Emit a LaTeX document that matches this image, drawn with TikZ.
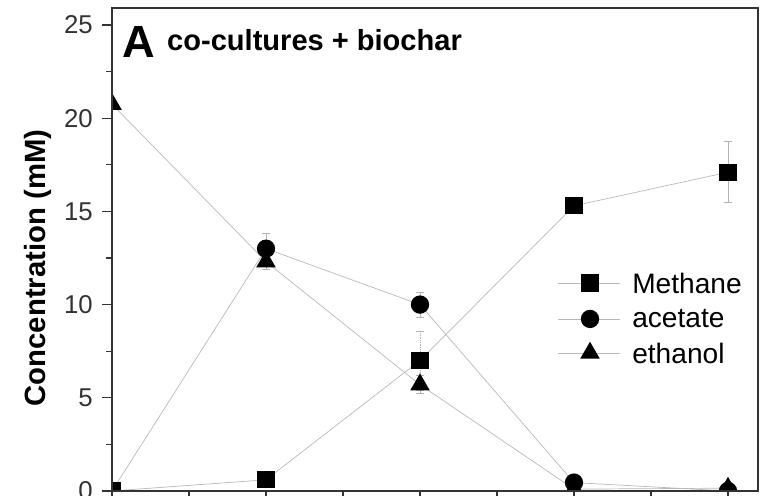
\documentclass[tikz,border=0pt]{standalone}
\usepackage{fontspec}
\setmainfont{Liberation Sans}
\usetikzlibrary{shapes.geometric,arrows.meta,calc}

\begin{document}
\begin{tikzpicture}[x=4.62cm,y=0.5592cm,
  axisline/.style={black!80,line width=1.1pt},
  dataline/.style={gray!55,line width=0.6pt},
  errbar/.style={gray!60,line width=0.5pt,{Bar[width=2.4mm]}-{Bar[width=2.4mm]}},
  sqmark/.style={rectangle,fill=black,minimum size=5.2mm,inner sep=0pt},
  dotmark/.style={circle,fill=black,minimum size=5.5mm,inner sep=0pt},
  trimark/.style={regular polygon,regular polygon sides=3,fill=black,minimum size=6.8mm,inner sep=0pt},
  ticklab/.style={inner sep=0pt,font=\fontsize{22}{26}\selectfont}]
  \useasboundingbox (-0.7273,-0.2682) rectangle (4.2403,26.341);
  % data points
  \foreach \x/\y [count=\i from 0] in {0/0,1/0.6,2/7.0,3/15.3,4/17.1} \coordinate (me\i) at (\x,\y);
  \foreach \x/\y [count=\i from 0] in {0/0,1/13.0,2/10.0,3/0.45,4/0} \coordinate (ac\i) at (\x,\y);
  \foreach \x/\y [count=\i from 0] in {0/20.75,1/12.3,2/5.7,3/0.1,4/0.15} \coordinate (et\i) at (\x,\y);
  \begin{scope}
    \clip (0,0) rectangle (4.1948,25.912);
    \draw[dataline] (me0) -- (me1) -- (me2) -- (me3) -- (me4);
    \draw[dataline] (ac0) -- (ac1) -- (ac2) -- (ac3) -- (ac4);
    \draw[dataline] (et0) -- (et1) -- (et2) -- (et3) -- (et4);
    \draw[errbar] ($(me4)+(0,-1.65)$) -- ($(me4)+(0,1.65)$);
    \draw[errbar,densely dotted] ($(me2)+(0,-1.6)$) -- ($(me2)+(0,1.6)$);
    \draw[errbar] ($(ac1)+(0,-0.85)$) -- ($(ac1)+(0,0.85)$);
    \draw[errbar] ($(ac2)+(0,-0.7)$) -- ($(ac2)+(0,0.7)$);
    \draw[errbar] ($(et1)+(0,-0.4)$) -- ($(et1)+(0,0.4)$);
    \draw[errbar] ($(et2)+(0,-0.5)$) -- ($(et2)+(0,0.5)$);
    \foreach \i in {0,...,4} {
      \node[dotmark] (acm\i) at (ac\i) {};
      \node[trimark] (etm\i) at (et\i) {};
      \node[sqmark] (mem\i) at (me\i) {};
    }
  \end{scope}
  % axes
  \draw[axisline] (0,0) rectangle (4.1948,25.912);
  \foreach \y in {0,5,...,25} \draw[axisline] (0,\y) -- ++(-0.3cm,0) node[left=2.6mm,ticklab] (yl\y) {\y};
  \foreach \y in {2.5,7.5,...,22.5} \draw[axisline] (0,\y) -- ++(-0.18cm,0);
  \foreach \x in {0,0.5,...,4} \draw[axisline] (\x,0) -- ++(0,-0.3cm);
  \node[rotate=90,anchor=base,inner sep=0pt,font=\bfseries\fontsize{25}{28}\selectfont] (ylab) at (-0.435,11.96) {Concentration (mM)};
  % panel title
  \node[anchor=base west,inner sep=0pt,font=\bfseries\fontsize{38.5}{40}\selectfont] (panel) at (0.0649,23.28) {A};
  \node[anchor=base west,inner sep=0pt,font=\bfseries\fontsize{24.8}{28}\selectfont] (cond) at (0.357,23.61) {co-cultures + biochar};
  % legend
  \foreach \nm/\st/\yy in {Methane/sqmark/11.16,acetate/dotmark/9.23,ethanol/trimark/7.40} {
    \coordinate (l\nm a) at (2.896,\yy);
    \coordinate (l\nm b) at (3.299,\yy);
    \draw[dataline] (l\nm a) -- (l\nm b);
    \node[\st] (l\nm m) at (3.104,\yy) {};
    \node[anchor=west,inner sep=0pt,font=\fontsize{24}{28}\selectfont] (l\nm t) at (3.377,\yy) {\nm};
  }
\end{tikzpicture}
\end{document}
